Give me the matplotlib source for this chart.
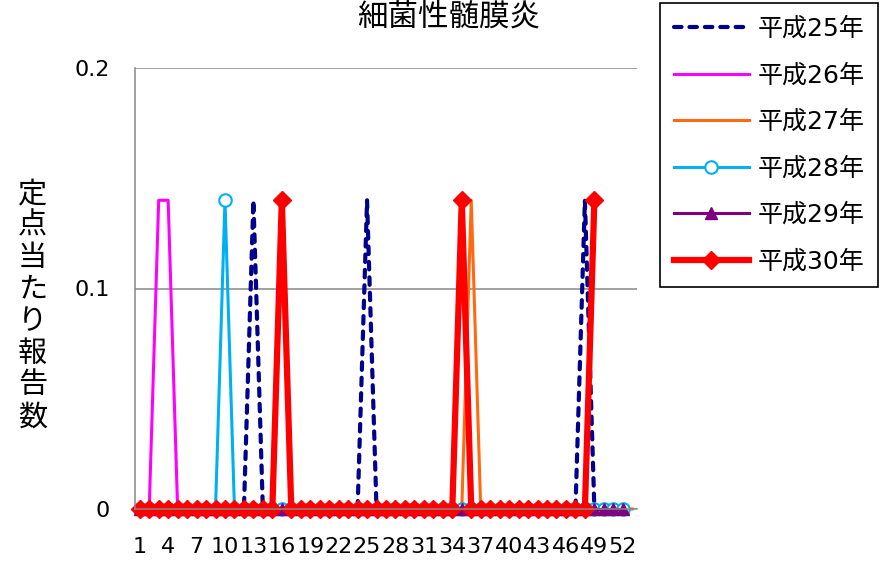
import numpy as np
import matplotlib.pyplot as plt

plt.rcParams['font.family'] = ['DejaVu Sans', 'Noto Sans CJK JP']

title = '細菌性髄膜炎'
ylabel = '定点当たり報告数'
labels = ['平成25年', '平成26年', '平成27年', '平成28年', '平成29年', '平成30年']

# weekly values (per sentinel site), weeks 1..n
h25 = [0, 0, 0, 0, 0, 0, 0, 0, 0, 0, 0, 0, 0.14,
       0, 0, 0, 0, 0, 0, 0, 0, 0, 0, 0, 0.14, 0,
       0, 0, 0, 0, 0, 0, 0, 0, 0, 0, 0, 0, 0,
       0, 0, 0, 0, 0, 0, 0, 0, 0.14, 0, 0, 0, 0]
h26 = [0, 0, 0.14, 0.14, 0, 0, 0, 0, 0, 0, 0, 0, 0,
       0, 0, 0, 0, 0, 0, 0, 0, 0, 0, 0, 0, 0,
       0, 0, 0, 0, 0, 0, 0, 0, 0, 0, 0, 0, 0,
       0, 0, 0, 0, 0, 0, 0, 0, 0, 0, 0, 0, 0]
h27 = [0, 0, 0, 0, 0, 0, 0, 0, 0, 0, 0, 0, 0,
       0, 0, 0, 0, 0, 0, 0, 0, 0, 0, 0, 0, 0,
       0, 0, 0, 0, 0, 0, 0, 0, 0, 0.14, 0, 0, 0,
       0, 0, 0, 0, 0, 0, 0, 0, 0, 0, 0, 0, 0, 0]
h28 = [0, 0, 0, 0, 0, 0, 0, 0, 0, 0.14, 0, 0, 0,
       0, 0, 0, 0, 0, 0, 0, 0, 0, 0, 0, 0, 0,
       0, 0, 0, 0, 0, 0, 0, 0, 0, 0, 0, 0, 0,
       0, 0, 0, 0, 0, 0, 0, 0, 0, 0, 0, 0, 0]
h29 = [0, 0, 0, 0, 0, 0, 0, 0, 0, 0, 0, 0, 0,
       0, 0, 0, 0, 0, 0, 0, 0, 0, 0, 0, 0, 0,
       0, 0, 0, 0, 0, 0, 0, 0, 0, 0, 0, 0, 0,
       0, 0, 0, 0, 0, 0, 0, 0, 0, 0, 0, 0, 0]
h30 = [0, 0, 0, 0, 0, 0, 0, 0, 0, 0, 0, 0, 0,
       0, 0, 0.14, 0, 0, 0, 0, 0, 0, 0, 0, 0, 0,
       0, 0, 0, 0, 0, 0, 0, 0, 0.14, 0, 0, 0, 0,
       0, 0, 0, 0, 0, 0, 0, 0, 0, 0.14]

xticks = list(range(1, 54, 3))
yticks = [0, 0.1, 0.2]
yticklabels = ['0', '0.1', '0.2']

fig = plt.figure(figsize=(8.85, 5.61), dpi=100)
ax = fig.add_axes([135 / 885, 1 - 509 / 561, 502 / 885, 441 / 561])

styles = [
    dict(color='#000090', lw=3, dashes=(1.8, 1.9), dash_capstyle='round'),
    dict(color='#FF00FF', lw=2.2),
    dict(color='#FF6A10', lw=2.2),
    dict(color='#00B0F0', lw=2.2, marker='o', ms=9, mfc='white', mec='#00B0F0', mew=1.5),
    dict(color='#7F007F', lw=2.2, marker='^', ms=9),
    dict(color='#FF0000', lw=4.5, marker='D', ms=9),
]
series = [h25, h26, h27, h28, h29, h30]
for vals, lab, st in zip(series, labels, styles):
    x = np.arange(1, len(vals) + 1)
    ax.plot(x, vals, label=lab, clip_on=False, **st)

ax.set_xlim(0.5, 53.5)
ax.set_ylim(0, 0.2)
ax.set_xticks(xticks)
ax.set_xticklabels([str(t) for t in xticks], fontsize=16)
ax.set_yticks(yticks)
ax.set_yticklabels(yticklabels, fontsize=16)
ax.tick_params(axis='both', length=0)
ax.tick_params(axis='x', pad=20)
ax.tick_params(axis='y', pad=18)
ax.grid(axis='y', color='#888888', lw=1.1)
ax.set_axisbelow(True)
for s in ['top', 'right']:
    ax.spines[s].set_visible(False)
for s in ['left', 'bottom']:
    ax.spines[s].set_color('#888888')
    ax.spines[s].set_linewidth(1.1)

fig.text(449 / 885, 1 - 17 / 561, title, fontsize=22, ha='center', va='center')

for i, ch in enumerate(ylabel):
    fig.text(32.5 / 885, 1 - (194 + i * 31.9) / 561, ch, fontsize=21,
             ha='center', va='center')

leg = fig.legend(loc='upper left', bbox_to_anchor=(660 / 885, 1 - 3 / 561),
                 fontsize=18, frameon=True, fancybox=False, edgecolor='black',
                 framealpha=1, borderaxespad=0, borderpad=0.55,
                 handlelength=3.0, handletextpad=0.35, labelspacing=0.9)
leg.get_frame().set_linewidth(1.2)

fig.savefig('out.png', dpi=100)
